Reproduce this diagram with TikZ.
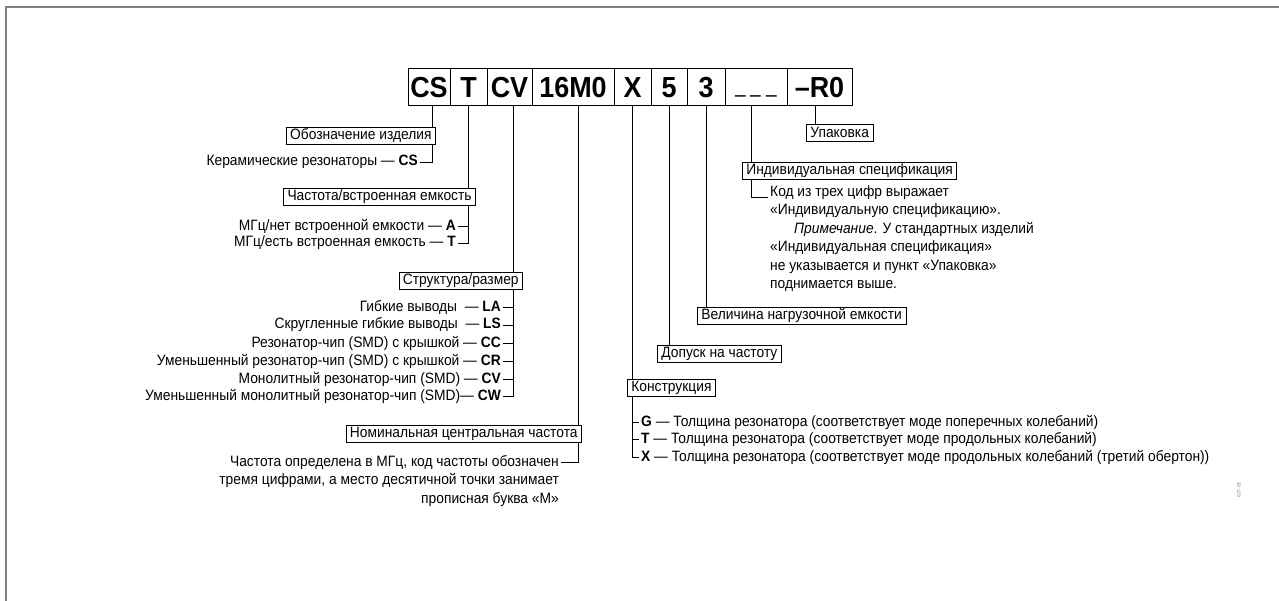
\documentclass[tikz,border=0pt]{standalone}
\usepackage{fontspec}
\setmainfont[FakeStretch=0.92]{Liberation Sans}
\newfontfamily\codefont[FakeStretch=0.93]{Liberation Sans}
\newfontfamily\dashfont[FakeStretch=0.5]{Liberation Sans}
\usetikzlibrary{positioning}

\begin{document}
\begin{tikzpicture}[x=1pt, y=-1pt,
  code/.style={draw, rectangle, line width=1pt, outer sep=0pt, minimum height=37pt,
    inner sep=0pt, text height=21pt, text depth=0pt,
    font=\codefont\fontsize{29}{30}\selectfont\bfseries},
  tag/.style={draw, rectangle, line width=0.8pt, minimum height=17pt, inner xsep=4pt,
    inner ysep=0.5pt, font=\fontsize{15}{16}\selectfont},
  entry/.style={inner xsep=2pt, inner ysep=1pt, font=\fontsize{15}{16}\selectfont},
  note/.style={entry, font=\fontsize{15}{18.5}\selectfont},
  lead/.style={line width=0.9pt}
]
\useasboundingbox (0,0) rectangle (1279,601);
\draw[gray, line width=2pt] (1279,7) -- (6,7) -- (6,601);

\node[code, minimum width=42pt, anchor=north west] (cs) at (408,69) {CS};
\node[code, minimum width=37pt, right=0pt of cs] (type) {T};
\node[code, minimum width=45pt, right=0pt of type] (shape) {CV};
\node[code, minimum width=82pt, right=0pt of shape] (freq) {16M0};
\node[code, minimum width=37pt, right=0pt of freq] (cons) {X};
\node[code, minimum width=36pt, right=0pt of cons] (tol) {5};
\node[code, minimum width=38pt, right=0pt of tol] (load) {3};
\node[code, minimum width=62pt, right=0pt of load] (spec)
  {\raisebox{5pt}{\dashfont\bfseries\fontsize{38}{38}\selectfont\_\hspace{5pt}\_\hspace{5pt}\_}};
\node[code, minimum width=65pt, right=0pt of spec] (pack) {–R0};

\coordinate (pcs) at ([xshift=3pt]cs.south);
\coordinate (ptype) at (type.south);
\coordinate (pshape) at ([xshift=4pt]shape.south);
\coordinate (pfreq) at ([xshift=5pt]freq.south);
\coordinate (pcons) at (cons.south);
\coordinate (ptol) at (tol.south);
\coordinate (pload) at (load.south);
\coordinate (pspec) at ([xshift=-5pt]spec.south);
\coordinate (ppack) at ([xshift=-4pt]pack.south);

% left side
\node[tag, anchor=north east] (desig) at (436,127) {Обозначение изделия};
\node[entry, anchor=east] (ceram) at (420,162) {Керамические резонаторы — \textbf{CS}};
\draw[lead] (pcs) -- (pcs |- desig.north);
\draw[lead] (pcs |- desig.south) |- (ceram.east);

\node[tag, anchor=north east] (fcap) at (476,188) {Частота/встроенная емкость};
\node[entry, anchor=east] (capa) at (458,226) {МГц/нет встроенной емкости — \textbf{A}};
\node[entry, anchor=east] (capt) at (458,243) {МГц/есть встроенная емкость — \textbf{T}};
\draw[lead] (ptype) -- (ptype |- fcap.north);
\draw[lead] (ptype |- fcap.south) |- (capt.east);
\draw[lead] (capa.east) -- (capa.east -| ptype);

\node[tag, anchor=north east] (size) at (523,272) {Структура/размер};
\node[entry, anchor=east] (sla) at (503,307) {Гибкие выводы~ — \textbf{LA}};
\node[entry, anchor=east] (sls) at (503,325) {Скругленные гибкие выводы~ — \textbf{LS}};
\node[entry, anchor=east] (scc) at (503,343) {Резонатор-чип (SMD) с крышкой — \textbf{CC}};
\node[entry, anchor=east] (scr) at (503,361) {Уменьшенный резонатор-чип (SMD) с крышкой — \textbf{CR}};
\node[entry, anchor=east] (scv) at (503,379) {Монолитный резонатор-чип (SMD) — \textbf{CV}};
\node[entry, anchor=east] (scw) at (503,396) {Уменьшенный монолитный резонатор-чип (SMD)— \textbf{CW}};
\draw[lead] (pshape) -- (pshape |- size.north);
\draw[lead] (pshape |- size.south) |- (scw.east);
\draw[lead] (sla.east) -- (sla.east -| pshape);
\draw[lead] (sls.east) -- (sls.east -| pshape);
\draw[lead] (scc.east) -- (scc.east -| pshape);
\draw[lead] (scr.east) -- (scr.east -| pshape);
\draw[lead] (scv.east) -- (scv.east -| pshape);

\node[tag, anchor=north east] (nom) at (582,425) {Номинальная центральная частота};
\node[note, anchor=north east, align=right] (nomtxt) at (561,454)
  {Частота определена в МГц, код частоты обозначен\\тремя цифрами, а место десятичной точки занимает\\прописная буква «М»};
\coordinate (nomend) at ([yshift=-8pt]nomtxt.north east);
\draw[lead] (pfreq) -- (pfreq |- nom.north);
\draw[lead] (pfreq |- nom.south) |- (nomend);

% right side
\node[tag, anchor=north west] (konstr) at (627,379) {Конструкция};
\node[entry, anchor=west] (kg) at (639,422) {\textbf{G} — Толщина резонатора (соответствует моде поперечных колебаний)};
\node[entry, anchor=west] (kt) at (639,439) {\textbf{T} — Толщина резонатора (соответствует моде продольных колебаний)};
\node[entry, anchor=west] (kx) at (639,457) {\textbf{X} — Толщина резонатора (соответствует моде продольных колебаний (третий обертон))};
\draw[lead] (pcons) -- (pcons |- konstr.north);
\draw[lead] (pcons |- konstr.south) |- (kx.west);
\draw[lead] (kg.west -| pcons) -- (kg.west);
\draw[lead] (kt.west -| pcons) -- (kt.west);

\node[tag, anchor=north west] (dop) at (657,345) {Допуск на частоту};
\draw[lead] (ptol) -- (ptol |- dop.north);

\node[tag, anchor=north west] (vel) at (697,307) {Величина нагрузочной емкости};
\draw[lead] (pload) -- (pload |- vel.north);

\node[tag, anchor=north west] (ind) at (742,162) {Индивидуальная спецификация};
\node[note, anchor=north west, align=left] (kod) at (768,184)
  {Код из трех цифр выражает\\«Индивидуальную спецификацию».\\
   \hspace*{24pt}\textit{Примечание}. У стандартных изделий\\«Индивидуальная спецификация»\\
   не указывается и пункт «Упаковка»\\поднимается выше.};
\coordinate (kodend) at ([yshift=-13pt]kod.north west);
\draw[lead] (pspec) -- (pspec |- ind.north);
\draw[lead] (pspec |- ind.south) |- (kodend);

\node[tag, anchor=north west] (upak) at (806,124) {Упаковка};
\draw[lead] (ppack) -- (ppack |- upak.north);

\node[rotate=90, gray, font=\fontsize{5}{6}\selectfont] (figid) at (1239,490) {827-03};
\end{tikzpicture}
\end{document}
